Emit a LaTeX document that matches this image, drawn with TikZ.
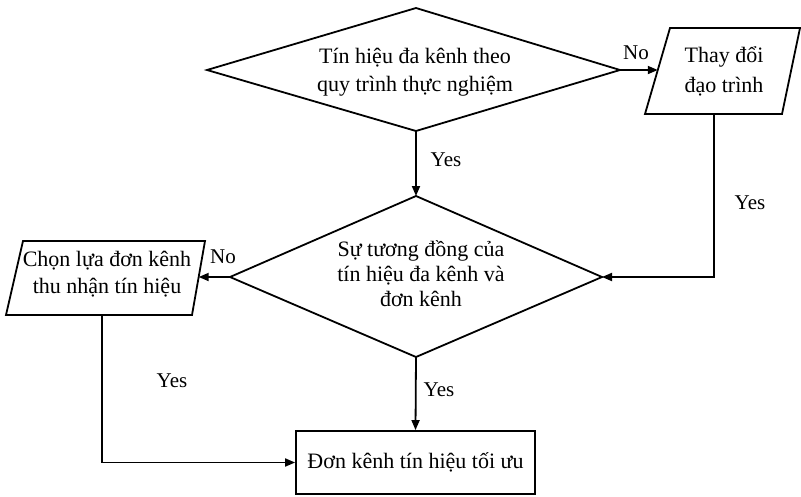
\documentclass[tikz,border=0pt]{standalone}
\usepackage{fontspec}
\setmainfont{Liberation Serif}
\usetikzlibrary{arrows.meta}
\begin{document}
\begin{tikzpicture}[x=1pt,y=-1pt,
  shapeline/.style={draw, line width=1.8pt, line join=miter},
  conn/.style={line width=1.8pt, -{Triangle[length=10pt,width=8pt]}},
  txt/.style={font=\fontsize{22}{28}\selectfont, align=center, inner sep=0pt},
  lbl/.style={font=\fontsize{21}{25}\selectfont, inner sep=0pt}]
\useasboundingbox (0,0) rectangle (801,496);

% decision 1
\coordinate (d1l) at (207,70);
\coordinate (d1t) at (416,8);
\coordinate (d1r) at (620,70);
\coordinate (d1b) at (416,131);
\draw[shapeline] (d1l) -- (d1t) -- (d1r) -- (d1b) -- cycle;
\node[txt] (d1) at (415,72) {Tín hiệu đa kênh theo\\quy trình thực nghiệm};

% parallelogram 1
\coordinate (p1a) at (670,28);
\coordinate (p1b) at (800,28);
\coordinate (p1c) at (782,114);
\coordinate (p1d) at (645,114);
\coordinate (p1in) at (657.8,70);
\coordinate (p1out) at (714,114);
\draw[shapeline] (p1a) -- (p1b) -- (p1c) -- (p1d) -- cycle;
\node[txt, font=\fontsize{22}{30}\selectfont] (p1) at (724,71) {Thay đổi\\đạo trình};

% decision 2
\coordinate (d2l) at (230,277);
\coordinate (d2t) at (416,196);
\coordinate (d2r) at (602,277);
\coordinate (d2b) at (416,357);
\draw[shapeline] (d2l) -- (d2t) -- (d2r) -- (d2b) -- cycle;
\node[txt, font=\fontsize{22}{25}\selectfont] (d2) at (421,274) {Sự tương đồng của\\tín hiệu đa kênh và\\đơn kênh};

% parallelogram 2
\coordinate (p2a) at (23,241);
\coordinate (p2b) at (205,241);
\coordinate (p2c) at (192,315);
\coordinate (p2d) at (6,315);
\coordinate (p2in) at (198.7,277);
\coordinate (p2out) at (102,315);
\draw[shapeline] (p2a) -- (p2b) -- (p2c) -- (p2d) -- cycle;
\node[txt, font=\fontsize{22}{27}\selectfont] (p2) at (107,274) {Chọn lựa đơn kênh\\thu nhận tín hiệu};

% result box
\node[txt, shapeline, minimum width=239pt, minimum height=63pt] (box) at (415.5,462.5) {Đơn kênh tín hiệu tối ưu};

% connectors
\draw[conn] (d1r) -- (p1in);
\draw[conn] (d1b) -- (d2t);
\draw[conn] (p1out) |- (d2r);
\draw[conn] (d2l) -- (p2in);
\draw[conn] (p2out) |- (box.west);
\draw[conn] (d2b) -- (box.north);

% labels
\node[lbl] (no1) at (636,53) {No};
\node[lbl] (yes1) at (446,160) {Yes};
\node[lbl] (yes2) at (750,203) {Yes};
\node[lbl] (no2) at (223,257) {No};
\node[lbl] (yes3) at (172,381) {Yes};
\node[lbl] (yes4) at (439,390) {Yes};
\end{tikzpicture}
\end{document}
